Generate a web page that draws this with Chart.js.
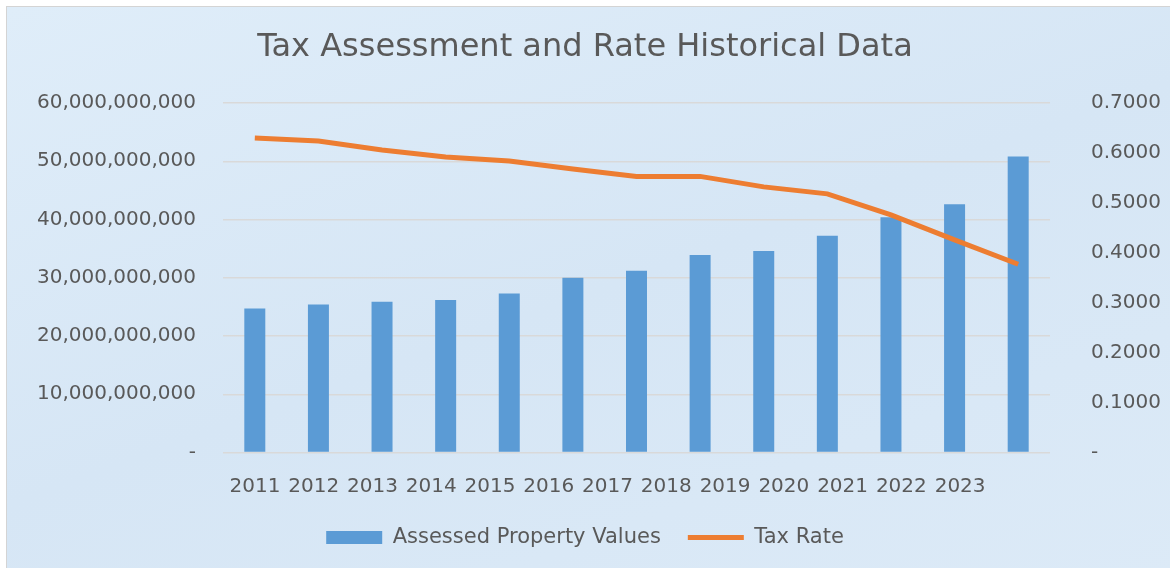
<!DOCTYPE html>
<html>
<head>
<meta charset="utf-8">
<title>Tax Assessment and Rate Historical Data</title>
<script src="https://cdn.jsdelivr.net/npm/chart.js@4"></script>
<style>
  body { margin: 0; background: #ffffff; }
  #frame {
    position: absolute; left: 6px; top: 6px; width: 1170px; height: 570px;
    background: linear-gradient(160deg, #dfedf9 0%, #d6e6f5 50%, #dceaf7 100%);
    border-left: 1px solid #d4d4d4; border-top: 1px solid #d4d4d4;
  }
  #chart { position: absolute; left: 0; top: 0; }
</style>
</head>
<body>
<div id="frame"></div>
<canvas id="chart" width="1170" height="568"></canvas>
<script>
// Chart data
const years = ["2011", "2012", "2013", "2014", "2015", "2016", "2017", "2018", "2019", "2020", "2021", "2022", "2023"];
const assessedValues = [24.7e9, 25.4e9, 25.9e9, 26.2e9, 27.3e9, 30.0e9, 31.2e9, 33.9e9, 34.6e9, 37.2e9, 40.4e9, 42.6e9, 50.8e9];
const taxRates = [0.630, 0.624, 0.606, 0.592, 0.584, 0.568, 0.553, 0.553, 0.532, 0.518, 0.476, 0.426, 0.377];

Chart.defaults.font.family = "'DejaVu Sans', sans-serif";
Chart.defaults.color = "#595959";

// year labels sit a little tighter than the bars in the original,
// so they get their own linear axis
const labelStart = -0.545;
const labelEnd = 13.53;

const ctx = document.getElementById("chart").getContext("2d");
const taxChart = new Chart(ctx, {
  type: "bar",
  data: {
    labels: years,
    datasets: [
      {
        type: "line",
        label: "Tax Rate",
        data: taxRates,
        yAxisID: "y1",
        borderColor: "#ed7d31",
        backgroundColor: "#ed7d31",
        borderWidth: 5,
        borderCapStyle: "butt",
        tension: 0,
        pointRadius: 0,
        pointHoverRadius: 0,
        pointStyle: "line",
        pointBorderColor: "#ed7d31",
        pointBorderWidth: 5,
        order: 0,
      },
      {
        label: "Assessed Property Values",
        data: assessedValues,
        yAxisID: "y",
        backgroundColor: "#5b9bd5",
        borderWidth: 0,
        categoryPercentage: 1,
        barPercentage: 0.33,
        pointStyle: "rect",
        order: 1,
      },
    ],
  },
  options: {
    responsive: false,
    animation: false,
    layout: { padding: { bottom: 10 } },
    plugins: {
      title: {
        display: true,
        text: "Tax Assessment and Rate Historical Data",
        font: { size: 32, weight: "normal" },
        color: "#595959",
        padding: { top: 28, bottom: 36.6 },
      },
      legend: {
        position: "bottom",
        reverse: true,
        labels: {
          usePointStyle: true,
          pointStyleWidth: 56,
          boxHeight: 13,
          padding: 27,
          font: { size: 21 },
          color: "#595959",
        },
      },
      tooltip: { enabled: false },
    },
    scales: {
      x: {
        display: false,
        grid: { display: false },
      },
      x2: {
        type: "linear",
        position: "bottom",
        offset: false,
        min: labelStart,
        max: labelEnd,
        grid: { display: false, offset: false },
        border: { display: false },
        afterBuildTicks: (axis) => {
          axis.ticks = years.map((y, i) => ({ value: i }));
        },
        afterFit: (axis) => {
          axis.height = 47.5;
        },
        ticks: {
          autoSkip: false,
          maxRotation: 0,
          padding: 14,
          font: { size: 20 },
          callback: (value) => years[value],
        },
      },
      y: {
        position: "left",
        min: 0,
        max: 60e9,
        grid: { color: "#d9d9d9", lineWidth: 1.5, drawTicks: false },
        border: { display: false },
        afterFit: (axis) => {
          axis.width = 223;
        },
        ticks: {
          stepSize: 10e9,
          padding: 27,
          font: { size: 20 },
          callback: (value) => (value === 0 ? "-" : value.toLocaleString("en-US")),
        },
      },
      y1: {
        position: "right",
        min: 0,
        max: 0.7,
        grid: { display: false },
        border: { display: false },
        afterFit: (axis) => {
          axis.width = 120;
        },
        ticks: {
          stepSize: 0.1,
          padding: 33,
          font: { size: 20 },
          callback: (value) => (value === 0 ? "-" : value.toFixed(4)),
        },
      },
    },
  },
});
</script>
</body>
</html>
